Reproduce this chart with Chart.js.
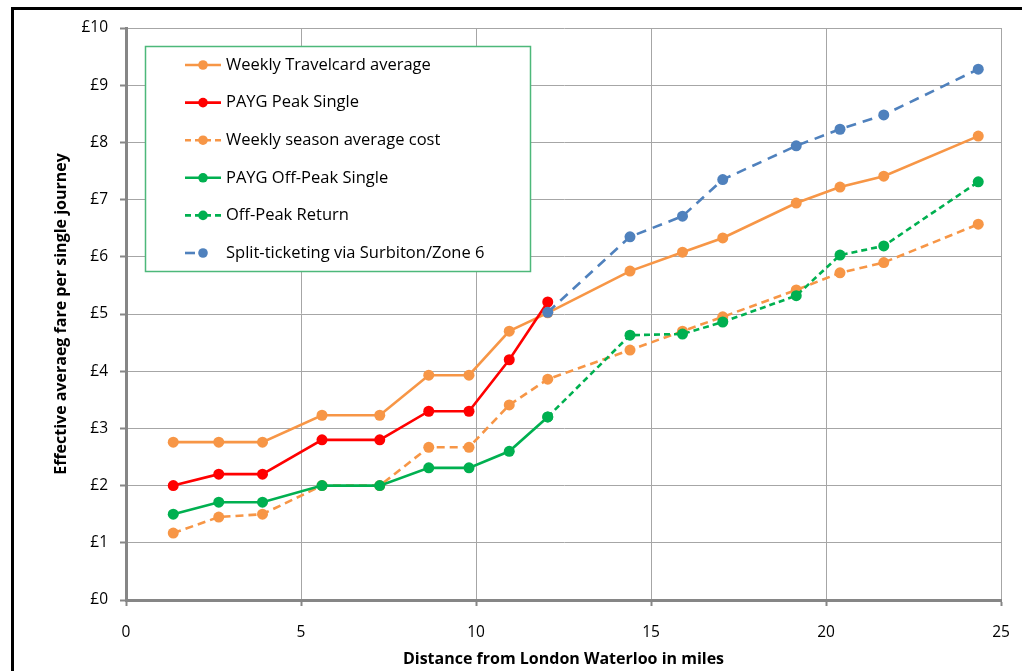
<!DOCTYPE html>
<html><head><meta charset="utf-8">
<script src="https://cdn.jsdelivr.net/npm/chart.js@4.4.1/dist/chart.umd.min.js"></script>
<style>html,body{margin:0;padding:0;background:#fff;overflow:hidden}#wrap{width:1022px;height:671px;position:relative}</style>
</head><body><div id="wrap"><canvas id="c" width="1022" height="671"></canvas></div>
<script>
// Distance from London Waterloo (miles)
const miles = [1.35, 2.65, 3.9, 5.6, 7.25, 8.65, 9.8, 10.95, 12.05, 14.4, 15.9, 17.05, 19.15, 20.4, 21.65, 24.35];
// Effective average fare per single journey (£)
const travelcard    = [2.76, 2.76, 2.76, 3.23, 3.23, 3.93, 3.93, 4.70, 5.02, 5.75, 6.08, 6.33, 6.94, 7.22, 7.41, 8.11];
const paygPeak      = [2.00, 2.20, 2.20, 2.80, 2.80, 3.30, 3.30, 4.20, 5.21, null, null, null, null, null, null, null];
const seasonAvg     = [1.17, 1.45, 1.50, 2.00, 2.00, 2.67, 2.67, 3.41, 3.86, 4.37, 4.70, 4.95, 5.42, 5.72, 5.90, 6.57];
const paygOffPeak   = [1.50, 1.71, 1.71, 2.00, 2.00, 2.31, 2.31, 2.60, 3.20, null, null, null, null, null, null, null];
const offPeakReturn = [null, null, null, null, null, null, null, null, 3.20, 4.63, 4.65, 4.86, 5.32, 6.03, 6.19, 7.31];
const splitTicket   = [null, null, null, null, null, null, null, null, 5.03, 6.35, 6.71, 7.35, 7.94, 8.23, 8.48, 9.28];
const yTickLabels = ['£0','£1','£2','£3','£4','£5','£6','£7','£8','£9','£10'];

const FONT = "'Open Sans', sans-serif";
const pts = arr => miles.map((m, i) => ({x: m, y: arr[i]}));

function ds(label, arr, color, dash, order) {
  return {label, data: pts(arr), borderColor: color, backgroundColor: color,
    borderWidth: 2.6, borderDash: dash, pointRadius: 5.5, pointHoverRadius: 5.5,
    pointBorderWidth: 0, pointBackgroundColor: color, tension: 0, order};
}

const frame = {
  id: 'frame',
  beforeDraw(chart) {
    const ctx = chart.ctx; ctx.save();
    ctx.fillStyle = '#fff'; ctx.fillRect(0, 0, chart.width, chart.height);
    ctx.strokeStyle = '#000'; ctx.lineWidth = 3;
    ctx.strokeRect(12.5, 8.5, 1200, 900);
    ctx.restore();
  }
};

const legendBox = {
  id: 'legendBox',
  afterDatasetsDraw(chart) {
    const ctx = chart.ctx;
    const x0 = 145, y0 = 46, x1 = 530, y1 = 271;
    ctx.save();
    ctx.fillStyle = '#fff'; ctx.fillRect(x0, y0, x1 - x0, y1 - y0);
    ctx.strokeStyle = '#4DB87A'; ctx.lineWidth = 1.5;
    ctx.strokeRect(x0 + 0.5, y0 + 0.5, x1 - x0, y1 - y0);
    chart.data.datasets.forEach((d, i) => {
      const y = 65 + i * 37.6;
      ctx.setLineDash(d.legendDash || d.borderDash || []);
      ctx.strokeStyle = d.borderColor; ctx.lineWidth = 2.6;
      ctx.beginPath(); ctx.moveTo(185, y); ctx.lineTo(d.legendEnd || 221, y); ctx.stroke();
      ctx.setLineDash([]);
      ctx.fillStyle = d.backgroundColor;
      ctx.beginPath(); ctx.arc(203, y, 4.8, 0, Math.PI * 2); ctx.fill();
      ctx.fillStyle = '#000'; ctx.font = '16.5px ' + FONT;
      ctx.textBaseline = 'middle'; ctx.textAlign = 'left';
      ctx.fillText(d.label, 226, y);
    });
    ctx.restore();
  }
};

const datasets = [
  ds('Weekly Travelcard average', travelcard, '#F79646', [], 6),
  ds('PAYG Peak Single', paygPeak, '#FF0000', [], 5),
  Object.assign(ds('Weekly season average cost', seasonAvg, '#F79646', [8, 5], 4), {legendDash: [6, 4]}),
  ds('PAYG Off-Peak Single', paygOffPeak, '#00B050', [], 3),
  Object.assign(ds('Off-Peak Return', offPeakReturn, '#00B050', [6, 4], 2), {legendDash: [6, 4]}),
  Object.assign(ds('Split-ticketing via Surbiton/Zone 6', splitTicket, '#4F81BD', [10, 7], 1), {legendDash: [10, 30], legendEnd: 203})
];

const gridCommon = {color: '#A6A6A6', lineWidth: 1, tickLength: 6, tickColor: '#868686', tickWidth: 2};

new Chart(document.getElementById('c'), {
  type: 'line',
  data: {datasets},
  options: {
    responsive: false, animation: false, devicePixelRatio: 1,
    layout: {padding: {left: 0, right: 21, top: 28, bottom: 0}},
    plugins: {legend: {display: false}, tooltip: {enabled: false}},
    scales: {
      x: {
        type: 'linear', min: 0, max: 25,
        ticks: {stepSize: 5, color: '#000', font: {family: FONT, size: 15.5}, padding: 17, maxRotation: 0},
        grid: gridCommon,
        border: {color: '#868686', width: 3},
        title: {display: true, text: 'Distance from London Waterloo in miles', color: '#000',
          font: {family: FONT, size: 16, weight: 'bold'}, padding: {top: 0, bottom: 2}},
        afterFit(s) { s.height = 71; s.paddingLeft = 0; s.paddingRight = 0; }
      },
      y: {
        type: 'linear', min: 0, max: 10,
        ticks: {stepSize: 1, color: '#000', font: {family: FONT, size: 15.5}, padding: 12,
          callback: (v) => yTickLabels[v]},
        grid: gridCommon,
        border: {color: '#868686', width: 3},
        title: {display: true, text: 'Effective averaeg fare per single journey', color: '#000',
          font: {family: FONT, size: 16, weight: 'bold'}, padding: {top: 52, bottom: 0}},
        afterFit(s) { s.width = 126; s.paddingTop = 0; s.paddingBottom = 0; }
      }
    }
  },
  plugins: [frame, legendBox]
});
</script></body></html>
